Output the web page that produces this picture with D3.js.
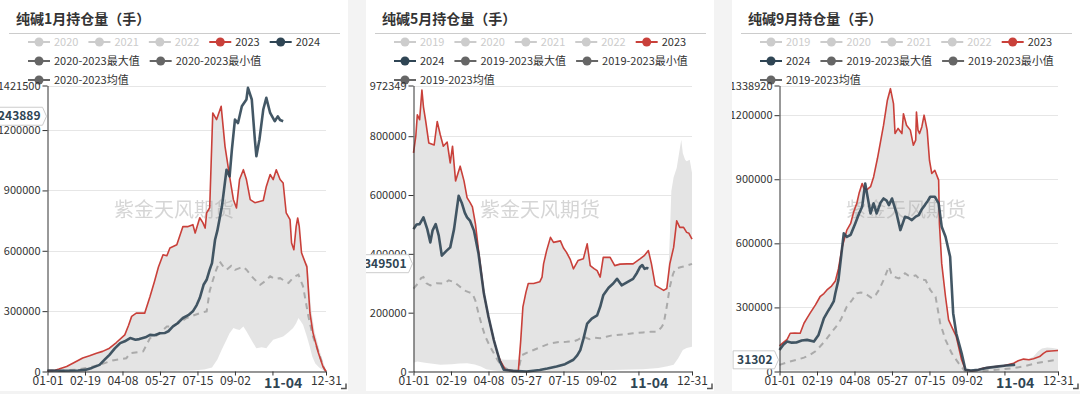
<!DOCTYPE html>
<html>
<head>
<meta charset="utf-8">
<script src="https://cdn.jsdelivr.net/npm/d3@7"></script>
<style>
body { margin: 0; background: #f3f3f3; width: 1080px; height: 394px; overflow: hidden; position: relative;
       font-family: "Microsoft YaHei", "Noto Sans CJK SC", "Noto Sans", sans-serif; }
svg { position: absolute; top: 0; background: #fff; }
</style>
</head>
<body>
<script>
// ---------- Shared axis data ----------
const xTickDays = [0, 49, 98, 147, 196, 245, 294, 364];
const xTickLabels = ["01-01", "02-19", "04-08", "05-27", "07-15", "09-02", "10-21", "12-31"];
const pointerDay = 308;
const pointerLabel = "11-04";
const watermark = "紫金天风期货";

// ---------- Graph 1 data (January contract) ----------
const janTitle = "纯碱1月持仓量（手）";
const janLegend = ["2020", "2021", "2022", "2023", "2024", "2020-2023最大值", "2020-2023最小值", "2020-2023均值"];
const janTicks = [0, 300000, 600000, 900000, 1200000];
const janTop = 1421500;
const janPointer = 1243889;
const jan2023 = [[0,3000],[10,6000],[15,12000],[25,25000],[35,45000],[46,67000],[55,78000],[64,91000],[72,100000],[81,116000],[90,144000],[101,182000],[106,230000],[110,274000],[116,290000],[127,290000],[134,373000],[140,450000],[145,519000],[151,580000],[156,575000],[160,614000],[169,630000],[177,721000],[183,720000],[190,730000],[193,688000],[199,764000],[203,740000],[206,713000],[208,788000],[212,814000],[216,1285000],[221,1252000],[227,1318000],[232,1119000],[238,970000],[243,854000],[247,813000],[251,954000],[256,1003000],[260,954000],[265,854000],[271,839000],[282,850000],[286,920000],[291,979000],[295,954000],[299,1003000],[304,954000],[308,937000],[312,788000],[317,755000],[319,639000],[322,605000],[325,721000],[327,763000],[329,721000],[332,590000],[337,540000],[339,520000],[341,406000],[343,291000],[347,192000],[354,93000],[360,25000],[364,0]];
const jan2024 = [[0,5000],[20,4000],[40,5000],[49,8000],[58,18000],[68,33000],[75,60000],[81,83000],[88,115000],[95,141000],[101,150000],[108,166000],[115,158000],[120,161000],[128,170000],[134,182000],[140,180000],[147,190000],[153,191000],[158,200000],[164,224000],[170,240000],[177,266000],[184,280000],[190,299000],[195,330000],[199,365000],[204,431000],[208,456000],[212,506000],[215,539000],[219,655000],[222,700000],[228,821000],[234,1003000],[238,970000],[241,1103000],[245,1252000],[249,1235000],[254,1318000],[260,1352000],[262,1410000],[267,1352000],[271,1153000],[273,1070000],[277,1153000],[282,1302000],[286,1360000],[291,1285000],[297,1244000],[301,1268000],[304,1250000],[308,1243889]];
const janAvg = [[0,2000],[20,5000],[40,10000],[55,20000],[68,33000],[85,55000],[103,66000],[108,91000],[125,100000],[134,166000],[140,170000],[156,224000],[164,224000],[182,266000],[199,290000],[208,299000],[212,400000],[215,440000],[220,500000],[225,547000],[230,520000],[234,506000],[240,525000],[245,505000],[251,514000],[256,520000],[260,506000],[269,464000],[278,431000],[285,450000],[291,473000],[297,460000],[304,464000],[310,450000],[315,440000],[322,470000],[328,481000],[334,423000],[341,274000],[347,174000],[352,120000],[356,75000],[362,10000],[364,0]];
const janMax = [[0,3000],[10,6000],[15,12000],[25,25000],[35,45000],[46,67000],[55,78000],[64,91000],[72,100000],[81,116000],[90,144000],[101,182000],[106,230000],[110,274000],[116,290000],[127,290000],[134,373000],[140,450000],[145,519000],[151,580000],[156,575000],[160,614000],[169,630000],[177,721000],[183,720000],[190,730000],[193,688000],[199,764000],[203,740000],[206,713000],[208,788000],[212,814000],[216,1285000],[221,1252000],[227,1318000],[232,1119000],[238,970000],[243,854000],[247,813000],[251,954000],[256,1003000],[260,954000],[265,854000],[271,839000],[282,850000],[286,920000],[291,979000],[295,954000],[299,1003000],[304,954000],[308,937000],[312,788000],[317,755000],[319,639000],[322,605000],[325,721000],[327,763000],[329,721000],[332,590000],[337,545000],[340,530000],[342,420000],[345,300000],[349,200000],[356,100000],[361,40000],[364,5000]];
const janMin = [[0,0],[100,0],[150,2000],[190,5000],[205,10000],[215,20000],[222,60000],[228,110000],[234,158000],[238,190000],[243,216000],[247,210000],[251,206000],[256,224000],[260,200000],[265,166000],[269,140000],[273,116000],[280,120000],[286,116000],[290,135000],[295,158000],[301,165000],[308,174000],[315,195000],[321,216000],[325,240000],[328,266000],[331,250000],[334,232000],[339,174000],[343,120000],[346,75000],[350,40000],[355,20000],[362,3000],[364,0]];

// ---------- Graph 2 data (May contract) ----------
const mayTitle = "纯碱5月持仓量（手）";
const mayLegend = ["2019", "2020", "2021", "2022", "2023", "2024", "2019-2023最大值", "2019-2023最小值", "2019-2023均值"];
const mayTicks = [0, 200000, 400000, 600000, 800000];
const mayTop = 972349;
const mayPointer = 349501;
const may2023 = [[0,743000],[3,800000],[5,873000],[8,856000],[11,957000],[13,900000],[16,850000],[20,777000],[27,770000],[31,850000],[35,805000],[39,766000],[44,780000],[48,709000],[51,766000],[55,648000],[61,698000],[66,648000],[70,591000],[74,574000],[77,560000],[81,501000],[85,411000],[88,350000],[92,265000],[98,186000],[105,107000],[110,60000],[114,34000],[120,6000],[130,2000],[137,1000],[140,100000],[143,220000],[147,270000],[150,299000],[157,299000],[165,305000],[168,321000],[170,366000],[174,411000],[179,456000],[183,439000],[192,444000],[196,420000],[200,405000],[205,380000],[209,349000],[215,377000],[222,383000],[227,434000],[231,360000],[236,350000],[240,343000],[244,321000],[248,388000],[257,388000],[263,360000],[270,365000],[279,366000],[287,366000],[296,383000],[302,395000],[307,411000],[311,366000],[316,293000],[321,285000],[327,276000],[331,282000],[335,366000],[340,422000],[344,512000],[348,490000],[353,490000],[357,473000],[360,470000],[364,450000]];
const may2024 = [[0,484000],[4,500000],[8,501000],[13,524000],[18,484000],[22,439000],[25,480000],[29,501000],[33,462000],[37,394000],[43,410000],[48,422000],[53,484000],[59,597000],[63,574000],[67,540000],[70,524000],[74,512000],[79,479000],[85,400000],[92,265000],[98,186000],[105,107000],[113,34000],[118,6000],[130,2000],[148,0],[165,5000],[175,10000],[187,17000],[198,25000],[209,40000],[214,55000],[218,73000],[222,110000],[227,163000],[233,180000],[240,191000],[244,220000],[248,259000],[255,285000],[261,299000],[266,315000],[272,293000],[280,305000],[287,315000],[292,335000],[296,355000],[299,362000],[302,349000],[305,352000],[307,349501]];
const mayAvg = [[0,282000],[6,300000],[10,318000],[13,321000],[17,300000],[22,293000],[30,300000],[40,299000],[46,310000],[53,304000],[60,290000],[66,276000],[72,270000],[77,265000],[81,240000],[85,197000],[90,150000],[94,118000],[100,85000],[105,62000],[110,38000],[116,17000],[125,5000],[137,2000],[140,40000],[142,56000],[150,66000],[157,73000],[168,85000],[179,96000],[190,100000],[200,101000],[210,103000],[214,107000],[222,118000],[230,110000],[237,115000],[244,113000],[252,118000],[258,122000],[266,124000],[275,126000],[287,130000],[300,133000],[310,135000],[318,135000],[324,150000],[327,163000],[331,220000],[335,287000],[339,330000],[342,349000],[350,355000],[357,360000],[364,366000]];
const mayMax = [[0,743000],[3,800000],[5,873000],[8,856000],[11,957000],[13,900000],[16,850000],[20,777000],[27,770000],[31,850000],[35,805000],[39,766000],[44,780000],[48,709000],[51,766000],[55,648000],[61,698000],[66,648000],[70,591000],[74,574000],[77,560000],[81,501000],[85,411000],[88,350000],[92,265000],[98,186000],[105,107000],[110,60000],[113,42000],[120,40000],[137,40000],[140,100000],[143,220000],[147,270000],[150,299000],[157,299000],[165,305000],[168,321000],[170,366000],[174,411000],[179,456000],[183,439000],[192,444000],[196,420000],[200,405000],[205,380000],[209,349000],[215,377000],[222,383000],[227,434000],[231,360000],[236,350000],[240,343000],[244,321000],[248,388000],[257,388000],[263,360000],[270,365000],[279,366000],[287,366000],[296,383000],[302,395000],[307,411000],[311,366000],[316,293000],[321,285000],[327,276000],[331,282000],[333,330000],[335,460000],[337,614000],[340,660000],[344,692000],[347,740000],[350,788000],[352,742000],[355,720000],[357,715000],[361,720000],[364,676000]];
const mayMin = [[0,30000],[5,34000],[15,30000],[25,26000],[35,23000],[50,25000],[60,27000],[70,28000],[80,24000],[88,17000],[95,8000],[105,3000],[120,0],[200,2000],[260,5000],[300,8000],[320,12000],[332,18000],[340,23000],[346,45000],[352,73000],[357,80000],[364,84000]];

// ---------- Graph 3 data (September contract) ----------
const sepTitle = "纯碱9月持仓量（手）";
const sepLegend = ["2019", "2020", "2021", "2022", "2023", "2024", "2019-2023最大值", "2019-2023最小值", "2019-2023均值"];
const sepTicks = [0, 300000, 600000, 900000, 1200000];
const sepTop = 1338920;
const sepPointer = 31302;
const sep2023 = [[0,120000],[4,133000],[10,150000],[14,179000],[20,180000],[27,179000],[32,226000],[36,250000],[40,273000],[47,312000],[53,350000],[58,365000],[62,382000],[68,400000],[73,424000],[77,480000],[82,584000],[88,662000],[93,693000],[97,748000],[101,787000],[104,834000],[108,880000],[110,860000],[114,850000],[119,865000],[123,911000],[128,997000],[132,1075000],[136,1153000],[141,1270000],[145,1324000],[149,1254000],[151,1114000],[155,1138000],[160,1114000],[162,1207000],[166,1153000],[171,1130000],[175,1059000],[178,1083000],[179,1215000],[181,1130000],[183,1114000],[186,1145000],[189,1200000],[193,1130000],[196,989000],[199,927000],[203,942000],[208,896000],[209,693000],[212,506000],[217,350000],[221,242000],[225,210000],[231,164000],[238,55000],[243,8000],[252,2000],[260,8000],[267,16000],[280,22000],[293,27000],[306,39000],[312,50000],[319,58000],[326,55000],[332,60000],[340,70000],[345,85000],[349,94000],[355,96000],[364,98000]];
const sep2024 = [[0,101000],[5,125000],[10,140000],[16,135000],[22,136000],[29,145000],[36,148000],[45,140000],[51,171000],[58,249000],[63,280000],[67,304000],[71,330000],[73,366000],[77,428000],[84,647000],[88,630000],[93,640000],[99,693000],[104,740000],[108,771000],[112,880000],[116,800000],[119,740000],[123,787000],[127,740000],[132,790000],[136,810000],[140,800000],[143,779000],[147,810000],[153,740000],[158,662000],[164,724000],[168,720000],[173,709000],[178,725000],[182,732000],[186,760000],[190,779000],[194,800000],[197,818000],[203,818000],[208,787000],[212,678000],[217,631000],[223,537000],[227,273000],[231,179000],[238,86000],[243,8000],[250,4000],[260,8000],[271,17000],[284,23000],[296,28000],[306,31000],[308,31302]];
const sepAvg = [[0,31000],[12,45000],[23,55000],[32,65000],[40,78000],[47,95000],[53,117000],[60,145000],[67,179000],[74,210000],[80,242000],[88,304000],[94,330000],[101,366000],[106,370000],[112,366000],[116,355000],[121,343000],[126,360000],[130,382000],[136,428000],[143,491000],[146,460000],[149,444000],[156,436000],[160,445000],[164,460000],[168,450000],[173,444000],[178,450000],[182,436000],[187,430000],[191,428000],[197,382000],[204,350000],[210,226000],[217,148000],[225,86000],[234,39000],[242,3000],[255,2000],[271,5000],[290,10000],[306,16000],[320,25000],[336,39000],[350,48000],[364,55000]];
const sepMax = [[0,120000],[4,133000],[10,150000],[14,179000],[20,180000],[27,179000],[32,226000],[36,250000],[40,273000],[47,312000],[53,350000],[58,365000],[62,382000],[68,400000],[73,424000],[77,480000],[82,584000],[88,662000],[93,693000],[97,748000],[101,787000],[104,834000],[108,880000],[110,860000],[114,850000],[119,865000],[123,911000],[128,997000],[132,1075000],[136,1153000],[141,1270000],[145,1324000],[149,1254000],[151,1114000],[155,1138000],[160,1114000],[162,1207000],[166,1153000],[171,1130000],[175,1059000],[178,1083000],[179,1215000],[181,1130000],[183,1114000],[186,1145000],[189,1200000],[193,1130000],[196,989000],[199,927000],[203,942000],[208,896000],[209,693000],[212,506000],[217,350000],[221,242000],[225,210000],[231,164000],[238,55000],[243,8000],[252,2000],[260,8000],[267,16000],[280,22000],[293,27000],[306,39000],[312,50000],[319,58000],[326,58000],[332,70000],[338,95000],[343,108000],[350,112000],[357,110000],[364,105000]];
const sepMin = [[0,5000],[60,3000],[120,2000],[200,2000],[240,0],[364,0]];

// ---------- Layout ----------
const W = 348, H = 391;
const plot = {left: 47.5, right: 326, top: 85.5, bottom: 371.5};
const colors = {y2023: "#c9403a", y2024: "#2f4554", stat: "#666", off: "#ccc", band: "#e4e4e4"};

let panels = [
    {id: "jan", left: 0, title: janTitle, legend: janLegend, ticks: janTicks, top: janTop, pointer: janPointer,
     s2023: jan2023, s2024: jan2024, avg: janAvg, max: janMax, min: janMin},
    {id: "may", left: 366, title: mayTitle, legend: mayLegend, ticks: mayTicks, top: mayTop, pointer: mayPointer,
     s2023: may2023, s2024: may2024, avg: mayAvg, max: mayMax, min: mayMin},
    {id: "sep", left: 732, title: sepTitle, legend: sepLegend, ticks: sepTicks, top: sepTop, pointer: sepPointer,
     s2023: sep2023, s2024: sep2024, avg: sepAvg, max: sepMax, min: sepMin}
];

function legendColor(name) {
    if (name === "2023") return colors.y2023;
    if (name === "2024") return colors.y2024;
    if (name.length > 4) return colors.stat;
    return colors.off;
}

function drawPanel(p) {
    let svg = d3.select("body").append("svg")
        .attr("width", W)
        .attr("height", H)
        .style("left", p.left + "px");

    // Title + separator
    svg.append("text")
        .attr("x", 16).attr("y", 24)
        .attr("font-size", 14).attr("font-weight", "bold")
        .attr("fill", "#333")
        .text(p.title);
    svg.append("line")
        .attr("x1", 9).attr("x2", 340).attr("y1", 33.5).attr("y2", 33.5)
        .attr("stroke", "#ccc");

    // Legend (left aligned, wraps)
    let lx = 28, ly = 42;
    p.legend.forEach(function(name) {
        let c = legendColor(name);
        let g = svg.append("g");
        let t = g.append("text")
            .attr("font-size", 11)
            .attr("dy", "0.35em")
            .attr("fill", c === colors.off ? colors.off : "#333")
            .text(name);
        let w = 26 + t.node().getComputedTextLength();
        if (lx + w > 338) { lx = 28; ly += 19; }
        t.attr("x", lx + 26).attr("y", ly);
        g.append("line")
            .attr("x1", lx).attr("x2", lx + 22).attr("y1", ly).attr("y2", ly)
            .attr("stroke", c).attr("stroke-width", 2);
        g.append("circle")
            .attr("cx", lx + 11).attr("cy", ly).attr("r", 4.5)
            .attr("fill", c);
        lx += w + 10;
    });

    // Scales
    let x = d3.scaleLinear().domain([0, 364]).range([plot.left, plot.right]);
    let y = d3.scaleLinear().domain([0, p.top]).range([plot.bottom, plot.top]);
    let yVals = p.ticks.concat([p.top]);

    // Grid
    svg.append("g").selectAll("line").data(yVals.slice(1)).join("line")
        .attr("x1", plot.left).attr("x2", plot.right)
        .attr("y1", d => Math.round(y(d)) + 0.5).attr("y2", d => Math.round(y(d)) + 0.5)
        .attr("stroke", "#e6e6e6");

    // Max-min band: max area with min area cut out
    let area = d3.area().x(d => x(d[0])).y0(y(0)).y1(d => y(d[1]));
    let mask = svg.append("defs").append("mask").attr("id", "band-" + p.id);
    mask.append("rect").attr("width", W).attr("height", H).attr("fill", "#fff");
    mask.append("path").datum(p.min).attr("d", area).attr("fill", "#000");
    svg.append("path").datum(p.max)
        .attr("d", area)
        .attr("fill", colors.band)
        .attr("mask", `url(#band-${p.id})`);

    // Watermark
    svg.append("text")
        .attr("x", 174).attr("y", 217)
        .attr("text-anchor", "middle")
        .attr("font-size", 20)
        .attr("fill", "#999").attr("opacity", 0.4)
        .text(watermark);

    // Lines
    let line = d3.line().x(d => x(d[0])).y(d => y(d[1]));
    svg.append("path").datum(p.avg).attr("d", line)
        .attr("fill", "none").attr("stroke", "#aaa").attr("stroke-width", 2)
        .attr("stroke-dasharray", "6,5");
    svg.append("path").datum(p.s2023).attr("d", line)
        .attr("fill", "none").attr("stroke", colors.y2023).attr("stroke-width", 1.6)
        .attr("stroke-linejoin", "round");
    svg.append("path").datum(p.s2024).attr("d", line)
        .attr("fill", "none").attr("stroke", colors.y2024).attr("stroke-width", 2.6)
        .attr("stroke-linejoin", "round").attr("opacity", 0.9);

    // Y axis
    let yAxis = svg.append("g")
        .attr("transform", `translate(${plot.left}, 0)`)
        .call(d3.axisLeft(y).tickValues(yVals).tickSize(5).tickSizeOuter(0).tickPadding(2).tickFormat(d3.format("d")));
    yAxis.selectAll("text").attr("font-size", 11).attr("fill", "#333")
        .attr("font-family", "\"Microsoft YaHei\", \"Noto Sans CJK SC\", sans-serif");
    yAxis.selectAll("line, path").attr("stroke", "#333");

    // X axis
    let xAxis = svg.append("g")
        .attr("transform", `translate(0, ${plot.bottom})`)
        .call(d3.axisBottom(x).tickValues(xTickDays).tickSize(4).tickSizeOuter(0).tickPadding(1)
            .tickFormat((d, i) => Math.abs(d - pointerDay) < 20 ? "" : xTickLabels[i]));
    xAxis.selectAll("text").attr("font-size", 12).attr("fill", "#333")
        .attr("font-family", "\"Microsoft YaHei\", \"Noto Sans CJK SC\", sans-serif");
    xAxis.selectAll("line, path").attr("stroke", "#333");

    // Current date label
    svg.append("text")
        .attr("x", x(pointerDay)).attr("y", 388)
        .attr("text-anchor", "middle")
        .attr("font-size", 14).attr("font-weight", "bold")
        .attr("fill", colors.y2024)
        .text(pointerLabel);

    // Current 2024 value label on the y axis
    let cy = y(p.pointer) - 5;
    let tip = svg.append("g");
    let box = tip.append("path");
    let tt = tip.append("text")
        .attr("x", plot.left - 7).attr("y", cy).attr("dy", "0.35em")
        .attr("text-anchor", "end")
        .attr("font-size", 12).attr("font-weight", "bold")
        .attr("fill", colors.y2024)
        .text(p.pointer);
    let tw = tt.node().getComputedTextLength();
    let bl = plot.left - 7 - tw - 4, br = plot.left - 5;
    box.attr("d", `M${bl},${cy - 9}L${br},${cy - 9}L${br + 4},${cy}L${br},${cy + 9}L${bl},${cy + 9}Z`)
        .attr("fill", "#fff").attr("stroke", "#ccc");

    // Corner mark
    svg.append("path")
        .attr("d", `M${W - 7},${H - 2.5}h5v-5`)
        .attr("fill", "none").attr("stroke", "#555").attr("stroke-width", 1.5);
}

panels.forEach(drawPanel);
</script>
</body>
</html>
